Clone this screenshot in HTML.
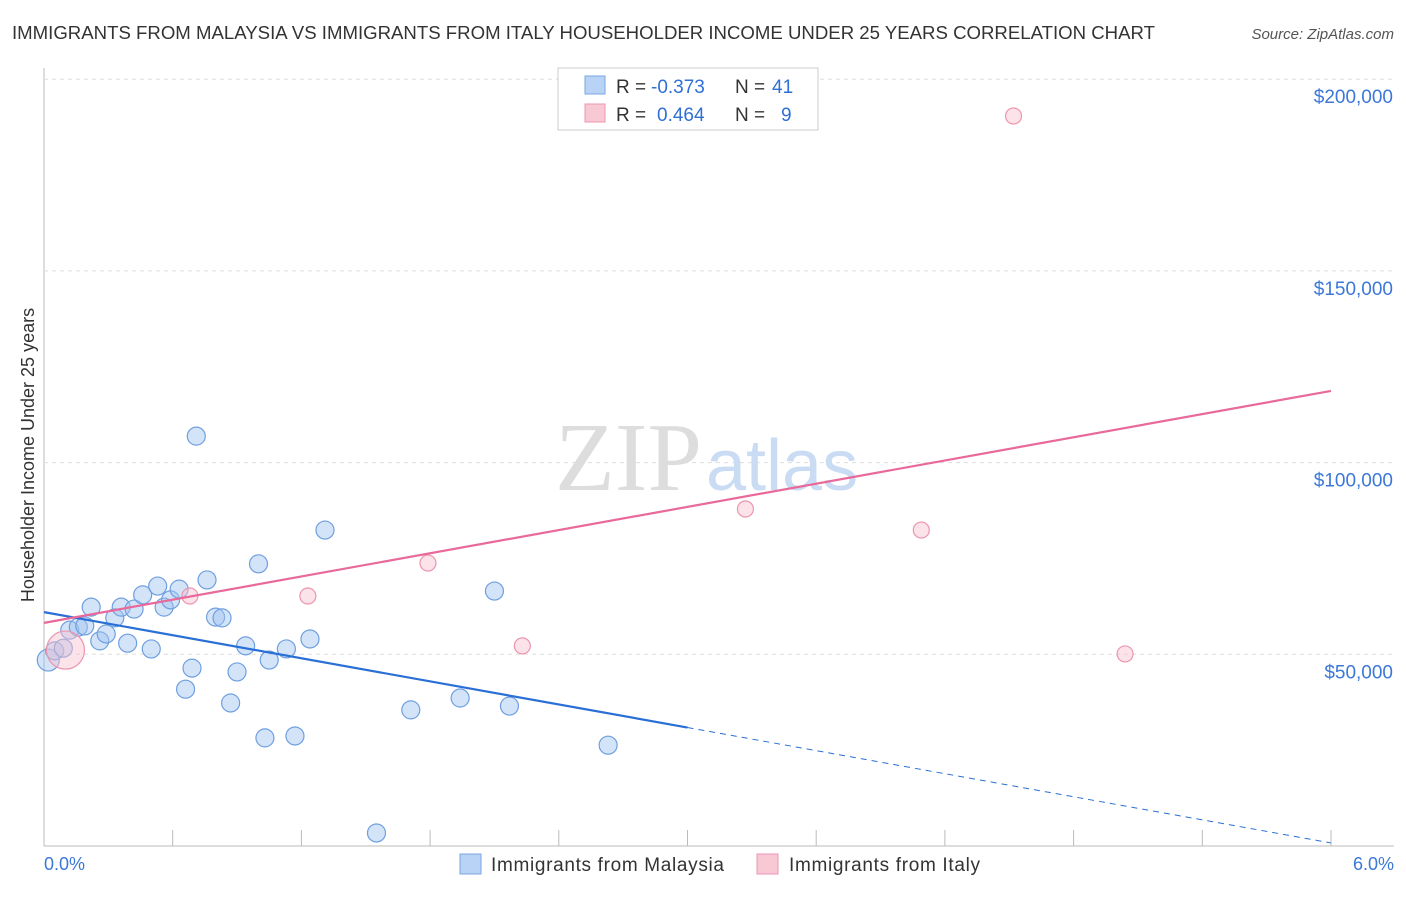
<!DOCTYPE html>
<html><head><meta charset="utf-8"><style>
body{margin:0;background:#fff;font-family:"Liberation Sans",sans-serif}
</style></head><body>
<svg width="1406" height="892" xmlns="http://www.w3.org/2000/svg" id="svg">
<text x="12" y="39" font-size="18" fill="#333" textLength="1143" lengthAdjust="spacingAndGlyphs">IMMIGRANTS FROM MALAYSIA VS IMMIGRANTS FROM ITALY HOUSEHOLDER INCOME UNDER 25 YEARS CORRELATION CHART</text>
<text x="1394" y="39" font-size="15" fill="#555" font-style="italic" text-anchor="end">Source: ZipAtlas.com</text>
<text x="34" y="455" font-size="18" fill="#333" text-anchor="middle" transform="rotate(-90 34 455)">Householder Income Under 25 years</text>
<g id="grid"></g>
<text x="555" y="490" font-size="98" fill="#ddd" font-family="Liberation Serif">ZIP<tspan fill="#c9dcf3" font-family="Liberation Sans" font-size="72" dx="4">atlas</tspan></text>
<g id="marks"></g>
<g>
<rect x="558" y="68" width="260" height="62" fill="#fff" stroke="#ccc"/>
<rect x="585" y="76" width="20" height="18" fill="#b8d3f5" stroke="#7aa7e0"/>
<rect x="585" y="104" width="20" height="18" fill="#f9c8d5" stroke="#ec95ae"/>
<text y="93" font-size="19" fill="#333"><tspan x="616">R =</tspan><tspan x="651" fill="#2f6fd6">-0.373</tspan><tspan x="735">N =</tspan><tspan x="772" fill="#2f6fd6">41</tspan></text>
<text y="121" font-size="19" fill="#333"><tspan x="616">R =</tspan><tspan x="657" fill="#2f6fd6">0.464</tspan><tspan x="735">N =</tspan><tspan x="781" fill="#2f6fd6">9</tspan></text>
</g>
<g>
<rect x="460" y="854" width="21" height="20" fill="#b8d3f5" stroke="#7aa7e0"/>
<text x="491" y="871" font-size="19" fill="#333" textLength="233">Immigrants from Malaysia</text>
<rect x="757" y="854" width="21" height="20" fill="#f9c8d5" stroke="#ec95ae"/>
<text x="789" y="871" font-size="19" fill="#333" textLength="191">Immigrants from Italy</text>
</g>
<text x="44" y="870" font-size="18" fill="#3b78d8">0.0%</text>
<text x="1394" y="870" font-size="18" fill="#3b78d8" text-anchor="end">6.0%</text>
</svg>
<script>
const yTicks=[50000,100000,150000,200000];
const yTickLabels=["$50,000","$100,000","$150,000","$200,000"];
const malX=[0.02,0.05,0.09,0.12,0.16,0.19,0.22,0.26,0.29,0.33,0.36,0.39,0.42,0.46,0.50,0.53,0.56,0.59,0.63,0.66,0.69,0.71,0.76,0.80,0.83,0.87,0.90,0.94,1.00,1.03,1.05,1.13,1.17,1.24,1.31,1.55,1.71,1.94,2.10,2.17,2.63];
const malY=[48.5,50.9,51.6,56.3,57.1,57.4,62.3,53.5,55.3,59.5,62.3,52.9,61.8,65.5,51.4,67.8,62.3,64.2,67.0,40.9,46.4,106.9,69.4,59.7,59.5,37.3,45.4,52.2,73.6,28.2,48.5,51.4,28.7,54.0,82.4,3.4,35.5,38.6,66.5,36.5,26.3];
const itaX=[0.10,0.68,1.23,1.79,2.23,3.27,4.09,4.52,5.04];
const itaY=[51.1,65.2,65.2,73.8,52.2,87.9,82.4,190.4,50.1];
const malLine=[61.0,0.8];
const itaLine=[58.2,118.7];
const sx=v=>44+v/6*1287;
const sy=v=>846-v/50*191.7;
const NS="http://www.w3.org/2000/svg";
function mk(t,a,p){const e=document.createElementNS(NS,t);for(const k in a)e.setAttribute(k,a[k]);p.appendChild(e);return e;}
const grid=document.getElementById('grid'),marks=document.getElementById('marks');
let ax=mk('line',{x1:44,y1:68,x2:44,y2:846,stroke:'#bbb'},grid);


let bx=mk('line',{x1:44,y1:846,x2:1394,y2:846,stroke:'#bbb'},grid);


for(let i=1;i<=10;i++){const x=sx(i*0.6);const t=mk('line',{x1:x,y1:830,x2:x,y2:846,stroke:'#bbb'},grid);

}
yTicks.forEach((v,i)=>{const y=sy(v/1000);
const g=mk('line',{x1:44,y1:y,x2:1394,y2:y,stroke:'#ddd','stroke-dasharray':'4 4'},grid);


const t=mk('text',{x:1393,y:y+24,'font-size':19,fill:'#3b78d8','text-anchor':'end'},grid);t.textContent=yTickLabels[i];

});
malX.forEach((v,i)=>{const c=mk('circle',{cx:sx(v),cy:sy(malY[i]),r:i==0?11:9,fill:'rgba(160,196,240,0.45)',stroke:'#6f9fe0','stroke-width':1.2},marks);

});
itaX.forEach((v,i)=>{const c=mk('circle',{cx:sx(v),cy:sy(itaY[i]),r:i==0?19:8,fill:'rgba(248,190,206,0.45)',stroke:'#ec95ae','stroke-width':1.2},marks);

});
const mid=malLine[0]+(malLine[1]-malLine[0])*0.5;
let l1=mk('line',{x1:sx(0),y1:sy(malLine[0]),x2:sx(3),y2:sy(mid),stroke:'#2a6fd6','stroke-width':2.2},marks);


let l2=mk('line',{x1:sx(3),y1:sy(mid),x2:sx(6),y2:sy(malLine[1]),stroke:'#2a6fd6','stroke-width':1,'stroke-dasharray':'6 5'},marks);


let l3=mk('line',{x1:sx(0),y1:sy(itaLine[0]),x2:sx(6),y2:sy(itaLine[1]),stroke:'#e8699a','stroke-width':2.2},marks);


</script>
</body></html>
